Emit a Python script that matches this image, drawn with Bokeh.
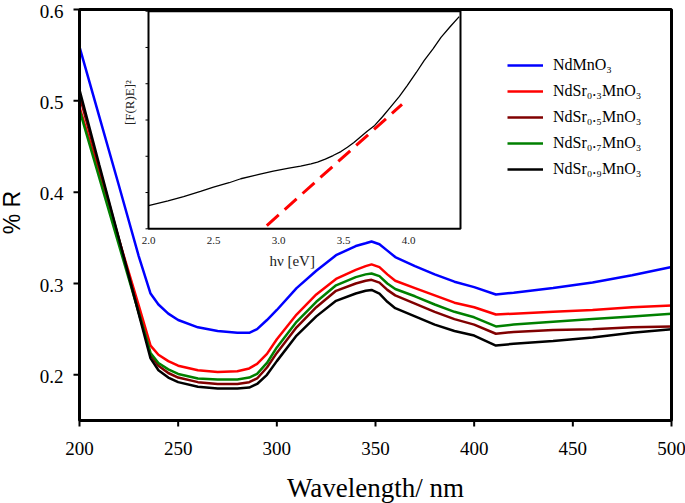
import math
from bokeh.plotting import figure
from bokeh.models import Range1d, Legend, LegendItem
from bokeh.embed import file_html
from bokeh.resources import INLINE
from bokeh.core.properties import value

# ---------------- data ----------------
wavelength = [200, 210, 220, 230, 236, 240, 245, 250, 260, 270, 280, 286, 290, 295,
              300, 310, 320, 330, 340, 345, 348, 352, 356, 360, 370, 380, 390, 400,
              411, 420, 440, 460, 480, 500]
r_ndmno3 = [0.559, 0.483, 0.407, 0.330, 0.289, 0.277, 0.267, 0.260, 0.252, 0.248, 0.246, 0.246,
            0.250, 0.260, 0.271, 0.295, 0.314, 0.331, 0.341, 0.344, 0.346, 0.343, 0.336, 0.329,
            0.319, 0.310, 0.302, 0.296, 0.288, 0.290, 0.295, 0.301, 0.309, 0.318]
r_sr03 = [0.493, 0.421, 0.348, 0.276, 0.232, 0.222, 0.215, 0.210, 0.205, 0.203, 0.204, 0.207,
          0.212, 0.223, 0.239, 0.266, 0.288, 0.305, 0.315, 0.319, 0.321, 0.318, 0.310, 0.303,
          0.295, 0.287, 0.279, 0.274, 0.266, 0.267, 0.269, 0.271, 0.274, 0.276]
r_sr05 = [0.506, 0.427, 0.348, 0.269, 0.222, 0.210, 0.202, 0.197, 0.192, 0.190, 0.190, 0.192,
          0.196, 0.208, 0.224, 0.252, 0.274, 0.292, 0.300, 0.303, 0.304, 0.301, 0.293, 0.287,
          0.278, 0.269, 0.261, 0.255, 0.245, 0.247, 0.249, 0.250, 0.252, 0.253]
r_sr07 = [0.490, 0.416, 0.342, 0.268, 0.224, 0.213, 0.206, 0.201, 0.196, 0.195, 0.195, 0.197,
          0.201, 0.213, 0.230, 0.258, 0.280, 0.298, 0.307, 0.310, 0.311, 0.308, 0.300, 0.294,
          0.286, 0.277, 0.269, 0.263, 0.253, 0.255, 0.258, 0.261, 0.264, 0.267]
r_sr09 = [0.512, 0.430, 0.349, 0.267, 0.218, 0.205, 0.197, 0.192, 0.187, 0.185, 0.185, 0.186,
          0.190, 0.200, 0.215, 0.243, 0.264, 0.281, 0.289, 0.292, 0.293, 0.289, 0.280, 0.273,
          0.264, 0.255, 0.248, 0.243, 0.232, 0.234, 0.237, 0.241, 0.246, 0.250]
series_names = ["NdMnO\u2083", "NdSr\u2080.\u2083MnO\u2083", "NdSr\u2080.\u2085MnO\u2083",
                "NdSr\u2080.\u2087MnO\u2083", "NdSr\u2080.\u2089MnO\u2083"]
series_colors = ["#0000FF", "#FF0000", "#800000", "#008000", "#000000"]
x_ticks = [200, 250, 300, 350, 400, 450, 500]
x_tick_labels = ["200", "250", "300", "350", "400", "450", "500"]
y_ticks = [0.2, 0.3, 0.4, 0.5, 0.6]
y_tick_labels = ["0.2", "0.3", "0.4", "0.5", "0.6"]

# inset (Tauc-type plot)
inset_energy = [2.0, 2.15, 2.27, 2.40, 2.50, 2.62, 2.71, 2.85, 2.96, 3.08, 3.17, 3.25, 3.30,
                3.36, 3.42, 3.48, 3.53, 3.58, 3.63, 3.68, 3.74, 3.80, 3.86, 3.93, 3.99,
                4.06, 4.12, 4.19, 4.25, 4.32, 4.39]
inset_fre2 = [0.64, 0.77, 0.89, 1.03, 1.15, 1.27, 1.38, 1.50, 1.59, 1.67, 1.73, 1.79, 1.84,
              1.92, 2.02, 2.13, 2.25, 2.38, 2.53, 2.68, 2.85, 3.09, 3.35, 3.65, 3.95,
              4.31, 4.64, 4.97, 5.28, 5.57, 5.85]
fit_energy = [2.91, 3.95]
fit_fre2 = [0.09, 3.43]
inset_xticks = [2.0, 2.5, 3.0, 3.5, 4.0]
inset_xtick_labels = ["2.0", "2.5", "3.0", "3.5", "4.0"]
inset_yticks = [0, 1, 2, 3, 4, 5, 6]

# ---------------- layout constants (pixels) ----------------
W, H = 685, 503
FL, FR, FT, FB = 79, 671, 9, 420          # main plot box edges
X0, X1, Y0, Y1 = 200, 500, 0.15, 0.6
IL, IR, IT, IB = 148, 460, 10.7, 228.3    # inset box edges
IX0, IX1, IY0, IY1 = 2.0, 4.4, 0.0, 6.0   # inset data limits

msx = (FR - FL) / (X1 - X0)
msy = (FB - FT) / (Y1 - Y0)
isx = (IR - IL) / (IX1 - IX0)
isy = (IB - IT) / (IY1 - IY0)

SERIF = "Liberation Serif"
SANS = "Liberation Sans"

# the drawing frame covers the whole canvas; the plot box and its ticks are drawn on it
p = figure(width=W, height=H,
           x_range=Range1d(X0 - FL / msx, X1 + (W - FR) / msx),
           y_range=Range1d(Y0 - (H - FB) / msy, Y1 + FT / msy),
           output_backend="svg", toolbar_location=None,
           x_axis_location=None, y_axis_location=None,
           min_border=0)
p.extra_x_ranges = {"inset": Range1d(IX0 - IL / isx, IX1 + (W - IR) / isx)}
p.extra_y_ranges = {"inset": Range1d(IY0 - (H - IB) / isy, IY1 + IT / isy)}
p.xgrid.visible = False
p.ygrid.visible = False
p.outline_line_color = None
p.background_fill_color = "white"
p.border_fill_color = "white"

# ---------------- main series ----------------
items = []
for name, color, ys in zip(series_names, series_colors,
                           [r_ndmno3, r_sr03, r_sr05, r_sr07, r_sr09]):
    r = p.line(wavelength, ys, line_color=color, line_width=2.5)
    items.append(LegendItem(label=name, renderers=[r]))

# plot box, ticks and tick labels
p.quad(left=[X0], right=[X1], bottom=[Y0], top=[Y1], fill_color=None,
       line_color="black", line_width=3)
p.segment(x0=x_ticks, x1=x_ticks, y0=[Y0] * len(x_ticks),
          y1=[Y0 - 6 / msy] * len(x_ticks), line_color="black", line_width=2)
p.segment(x0=[X0 - 6 / msx] * len(y_ticks), x1=[X0] * len(y_ticks), y0=y_ticks,
          y1=y_ticks, line_color="black", line_width=2)
p.text(x=x_ticks, y=[Y0] * len(x_ticks), text=x_tick_labels, y_offset=28,
       text_align="center", text_baseline="middle", text_font=value(SERIF),
       text_font_size="19px", text_color="black")
p.text(x=[X0] * len(y_ticks), y=y_ticks, text=y_tick_labels, x_offset=-16, y_offset=1.5,
       text_align="right", text_baseline="middle", text_font=value(SERIF),
       text_font_size="19px", text_color="black")
p.text(x=[(X0 + X1) / 2], y=[Y0], text=["Wavelength/ nm"], y_offset=67,
       text_align="center", text_baseline="middle", text_font=value(SERIF),
       text_font_size="27px", text_color="black")
p.text(x=[X0], y=[Y1 - (212 - FT) / msy], text=["% R"], x_offset=-(FL - 11.5),
       angle=math.pi / 2, text_align="center", text_baseline="middle",
       text_font=value(SANS), text_font_size="23px", text_color="black")

legend = Legend(items=items, location=(507, H - 52 - 130), padding=0, margin=0,
                border_line_alpha=0, background_fill_alpha=0,
                glyph_width=36, glyph_height=26, label_height=26, spacing=0,
                label_standoff=10, label_text_font=SERIF, label_text_font_size="16px",
                label_text_color="black")
p.add_layout(legend)

# ---------------- inset ----------------
rk = dict(x_range_name="inset", y_range_name="inset")
p.quad(left=[IX0], right=[IX1], bottom=[IY0], top=[IY1], fill_color="white",
       line_color="black", line_width=2, **rk)
p.line(inset_energy, inset_fre2, line_color="black", line_width=1.3, **rk)
p.line(fit_energy, fit_fre2, line_color="#FF0000", line_width=3, line_dash="16 8", **rk)
p.segment(x0=[IX0 - 3 / isx] * len(inset_yticks), x1=[IX0] * len(inset_yticks),
          y0=inset_yticks, y1=inset_yticks, line_color="black", line_width=1, **rk)
p.text(x=inset_xticks, y=[IY0] * len(inset_xticks), text=inset_xtick_labels,
       text_font=value(SERIF), text_font_size="11px", text_color="#222222",
       text_align="center", text_baseline="top", y_offset=8, **rk)
p.text(x=[IX0 + 1.105], y=[IY0], text=["h\u03bd [eV]"], text_font=value(SERIF),
       text_font_size="15px", text_color="#222222", text_align="center",
       text_baseline="middle", y_offset=32, **rk)
p.text(x=[IX0], y=[3.48], text=["[F(R)E]\u00b2"], text_font=value(SERIF),
       text_font_size="13px", text_color="#222222", text_align="center",
       text_baseline="middle", angle=math.pi / 2, x_offset=-19, **rk)

html = file_html(p, INLINE)
html = html.replace("</head>", "<style>html,body{margin:0;padding:0;overflow:hidden;}</style></head>", 1)
open("out.html", "w").write(html)
